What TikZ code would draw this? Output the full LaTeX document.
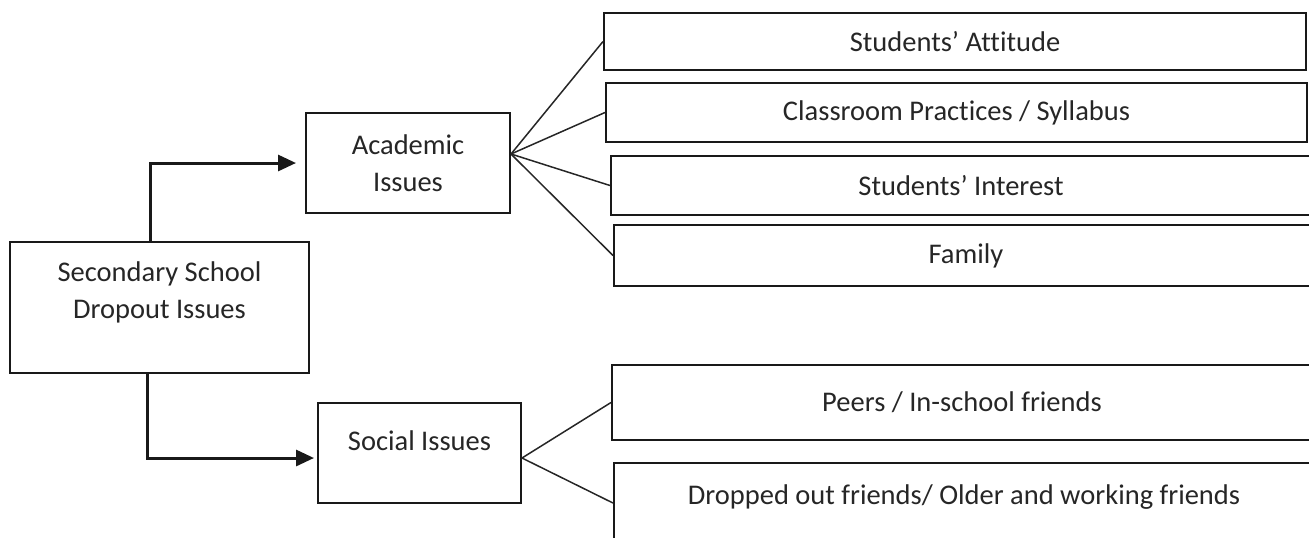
\documentclass[tikz,border=0pt]{standalone}
\usepackage{fontspec}
\setmainfont{Carlito}[Ligatures=NoCommon]
\usetikzlibrary{arrows.meta}

\begin{document}
\begin{tikzpicture}[x=0.5pt,y=-0.5pt,>={Triangle[length=9pt,width=8pt]},
  font=\fontsize{14.25pt}{18.5pt}\selectfont,
  box/.style={draw=black!90,line width=1pt,inner sep=0pt,text=black!85},
  txt/.style={text=black!85,inner sep=0pt},
  feed/.style={->,line width=1.5pt,draw=black!90},
  fan/.style={line width=0.75pt,draw=black!85}]
  \useasboundingbox (0,0) rectangle (1309,537);
  \clip (0,0) rectangle (1309,537);
  \node[box,minimum width=149.5pt,minimum height=65.5pt] (main) at (159.5,307.5) {};
  \node[txt,align=center] (maintext) at (159.5,292.5) {Secondary School\\Dropout Issues};
  \node[box,minimum width=102pt,minimum height=50pt,align=center] (acad) at (408,163) {Academic\\Issues};
  \node[box,minimum width=101.5pt,minimum height=50pt] (soc) at (419.5,453) {};
  \node[txt,anchor=base] (soctext) at (419.5,450) {Social Issues};
  \node[box,minimum width=351pt,minimum height=28.5pt] (att) at (955,41.5) {Students’ Attitude};
  \node[box,minimum width=350.5pt,minimum height=29.5pt] (prac) at (956.5,112.5) {Classroom Practices / Syllabus};
  \node[box,minimum width=350pt,minimum height=29.5pt] (intr) at (961,185.5) {Students’ Interest};
  \node[box,minimum width=352pt,minimum height=30.5pt] (fam) at (966,255.5) {Family};
  \node[box,minimum width=350pt,minimum height=37.5pt] (peer) at (962,402.5) {Peers / In-school friends};
  \node[box,minimum width=350pt,minimum height=40pt,text depth=8pt] (drop) at (964,503) {Dropped out friends/ Older and working friends};
  \draw[feed] ([xshift=-4.75pt]main.north) |- ([xshift=-4.5pt]acad.west);
  \draw[feed] ([xshift=-6.25pt]main.south) |- ([shift={(-1.5pt,-2.5pt)}]soc.west);
  \foreach \b in {att,prac,intr,fam}
    \draw[fan] ([yshift=4.5pt]acad.east) -- (\b.west);
  \foreach \b in {peer,drop}
    \draw[fan] ([yshift=-2.5pt]soc.east) -- (\b.west);
\end{tikzpicture}
\end{document}
